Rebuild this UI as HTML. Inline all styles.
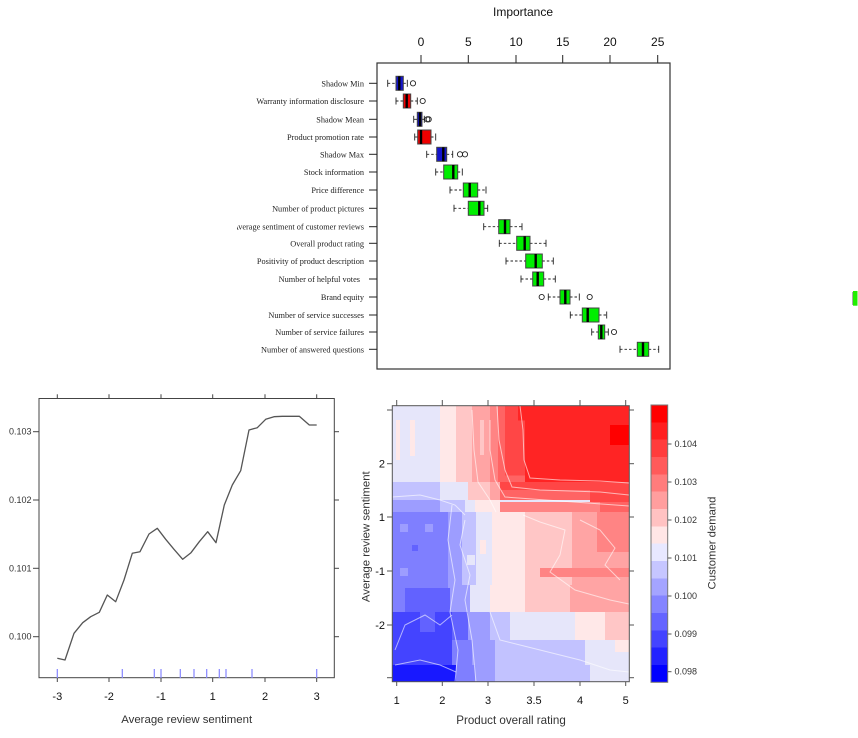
<!DOCTYPE html>
<html><head><meta charset="utf-8"><style>
html,body{margin:0;padding:0;background:#fff;}
svg{display:block;}
.serif{font-family:"Liberation Serif",serif;}
.sans{font-family:"Liberation Sans",sans-serif;}
</style></head><body>
<svg width="858" height="738" viewBox="0 0 858 738" xmlns="http://www.w3.org/2000/svg">
<rect width="858" height="738" fill="#fff"/>
<defs><clipPath id="lc"><rect x="237" y="0" width="200" height="380"/></clipPath></defs>

<!-- ===== Boxplot ===== -->
<text x="523" y="16" class="sans" font-size="12" text-anchor="middle" fill="#111">Importance</text>
<g class="sans" font-size="12" fill="#111" text-anchor="middle">
<text x="421" y="46">0</text><text x="468.3" y="46">5</text><text x="516" y="46">10</text><text x="562.7" y="46">15</text><text x="610" y="46">20</text><text x="657.7" y="46">25</text>
</g>
<g stroke="#222" stroke-width="1">
<line x1="421" y1="55" x2="421" y2="63"/><line x1="468.3" y1="55" x2="468.3" y2="63"/><line x1="516" y1="55" x2="516" y2="63"/><line x1="562.7" y1="55" x2="562.7" y2="63"/><line x1="610" y1="55" x2="610" y2="63"/><line x1="657.7" y1="55" x2="657.7" y2="63"/>
</g>
<rect x="377" y="63" width="293" height="306" fill="none" stroke="#333" stroke-width="1.2"/>
<g stroke="#222" stroke-width="1">
<line x1="369" x2="377" y1="83.3" y2="83.3"/><line x1="369" x2="377" y1="101" y2="101"/><line x1="369" x2="377" y1="119.3" y2="119.3"/><line x1="369" x2="377" y1="137" y2="137"/><line x1="369" x2="377" y1="154.3" y2="154.3"/><line x1="369" x2="377" y1="172" y2="172"/><line x1="369" x2="377" y1="190" y2="190"/><line x1="369" x2="377" y1="208.3" y2="208.3"/><line x1="369" x2="377" y1="226.7" y2="226.7"/><line x1="369" x2="377" y1="243.3" y2="243.3"/><line x1="369" x2="377" y1="261" y2="261"/><line x1="369" x2="377" y1="279" y2="279"/><line x1="369" x2="377" y1="297" y2="297"/><line x1="369" x2="377" y1="315" y2="315"/><line x1="369" x2="377" y1="332" y2="332"/><line x1="369" x2="377" y1="349.3" y2="349.3"/>
</g>
<g class="serif" font-size="8.3" fill="#222" text-anchor="end" clip-path="url(#lc)">
<text x="364" y="86.3">Shadow Min</text>
<text x="364" y="104">Warranty information disclosure</text>
<text x="364" y="122.3">Shadow Mean</text>
<text x="364" y="140">Product promotion rate</text>
<text x="364" y="157.3">Shadow Max</text>
<text x="364" y="175">Stock information</text>
<text x="364" y="193">Price difference</text>
<text x="364" y="211.3">Number of product pictures</text>
<text x="364" y="229.7">Average sentiment of customer reviews</text>
<text x="364" y="246.3">Overall product rating</text>
<text x="364" y="264">Positivity of product description</text>
<text x="360" y="282">Number of helpful votes</text>
<text x="364" y="300">Brand equity</text>
<text x="364" y="318">Number of service successes</text>
<text x="364" y="335">Number of service failures</text>
<text x="364" y="352.3">Number of answered questions</text>
</g>

<g stroke="#222" stroke-width="0.9" fill="none">
<!-- row template: dashed whiskers, caps -->
<g transform="translate(0,83.3)"><line x1="387.7" x2="396" y1="0" y2="0" stroke-dasharray="2.5,2"/><line x1="403.3" x2="407.3" y1="0" y2="0" stroke-dasharray="2.5,2"/><line x1="387.7" x2="387.7" y1="-3.5" y2="3.5"/><line x1="407.3" x2="407.3" y1="-3.5" y2="3.5"/><circle cx="413" cy="0" r="2.6"/></g>
<g transform="translate(0,101)"><line x1="396" x2="403.3" y1="0" y2="0" stroke-dasharray="2.5,2"/><line x1="410.7" x2="417.3" y1="0" y2="0" stroke-dasharray="2.5,2"/><line x1="396" x2="396" y1="-3.5" y2="3.5"/><line x1="417.3" x2="417.3" y1="-3.5" y2="3.5"/><circle cx="422.7" cy="0" r="2.6"/></g>
<g transform="translate(0,119.3)"><line x1="413.7" x2="417.3" y1="0" y2="0"/><line x1="422" x2="424.3" y1="0" y2="0"/><line x1="413.7" x2="413.7" y1="-3.5" y2="3.5"/><line x1="424.3" x2="424.3" y1="-3.5" y2="3.5"/><circle cx="427.3" cy="0" r="2.6"/><circle cx="428.7" cy="0" r="2.6"/></g>
<g transform="translate(0,137)"><line x1="414.7" x2="417.7" y1="0" y2="0"/><line x1="431" x2="435.7" y1="0" y2="0" stroke-dasharray="2.5,2"/><line x1="414.7" x2="414.7" y1="-3.5" y2="3.5"/><line x1="435.7" x2="435.7" y1="-3.5" y2="3.5"/></g>
<g transform="translate(0,154.3)"><line x1="426.7" x2="436.7" y1="0" y2="0" stroke-dasharray="2.5,2"/><line x1="446.7" x2="452.7" y1="0" y2="0" stroke-dasharray="2.5,2"/><line x1="426.7" x2="426.7" y1="-3.5" y2="3.5"/><line x1="452.7" x2="452.7" y1="-3.5" y2="3.5"/><circle cx="460" cy="0" r="2.6"/><circle cx="465" cy="0" r="2.6"/></g>
<g transform="translate(0,172)"><line x1="435.7" x2="443.7" y1="0" y2="0" stroke-dasharray="2.5,2"/><line x1="457.7" x2="462.3" y1="0" y2="0" stroke-dasharray="2.5,2"/><line x1="435.7" x2="435.7" y1="-3.5" y2="3.5"/><line x1="462.3" x2="462.3" y1="-3.5" y2="3.5"/></g>
<g transform="translate(0,190)"><line x1="450" x2="463.3" y1="0" y2="0" stroke-dasharray="2.5,2"/><line x1="477.7" x2="486" y1="0" y2="0" stroke-dasharray="2.5,2"/><line x1="450" x2="450" y1="-3.5" y2="3.5"/><line x1="486" x2="486" y1="-3.5" y2="3.5"/></g>
<g transform="translate(0,208.3)"><line x1="454" x2="468.3" y1="0" y2="0" stroke-dasharray="2.5,2"/><line x1="484" x2="487.7" y1="0" y2="0"/><line x1="454" x2="454" y1="-3.5" y2="3.5"/><line x1="487.7" x2="487.7" y1="-3.5" y2="3.5"/></g>
<g transform="translate(0,226.7)"><line x1="483.7" x2="498.7" y1="0" y2="0" stroke-dasharray="2.5,2"/><line x1="510" x2="522" y1="0" y2="0" stroke-dasharray="2.5,2"/><line x1="483.7" x2="483.7" y1="-3.5" y2="3.5"/><line x1="522" x2="522" y1="-3.5" y2="3.5"/></g>
<g transform="translate(0,243.3)"><line x1="499.3" x2="516.7" y1="0" y2="0" stroke-dasharray="2.5,2"/><line x1="530" x2="546" y1="0" y2="0" stroke-dasharray="2.5,2"/><line x1="499.3" x2="499.3" y1="-3.5" y2="3.5"/><line x1="546" x2="546" y1="-3.5" y2="3.5"/></g>
<g transform="translate(0,261)"><line x1="506" x2="525.7" y1="0" y2="0" stroke-dasharray="2.5,2"/><line x1="542.3" x2="553.3" y1="0" y2="0" stroke-dasharray="2.5,2"/><line x1="506" x2="506" y1="-3.5" y2="3.5"/><line x1="553.3" x2="553.3" y1="-3.5" y2="3.5"/></g>
<g transform="translate(0,279)"><line x1="521" x2="532.7" y1="0" y2="0" stroke-dasharray="2.5,2"/><line x1="543.7" x2="555.3" y1="0" y2="0" stroke-dasharray="2.5,2"/><line x1="521" x2="521" y1="-3.5" y2="3.5"/><line x1="555.3" x2="555.3" y1="-3.5" y2="3.5"/></g>
<g transform="translate(0,297)"><line x1="548.3" x2="560" y1="0" y2="0" stroke-dasharray="2.5,2"/><line x1="570" x2="579.3" y1="0" y2="0" stroke-dasharray="2.5,2"/><line x1="548.3" x2="548.3" y1="-3.5" y2="3.5"/><line x1="579.3" x2="579.3" y1="-3.5" y2="3.5"/><circle cx="541.7" cy="0" r="2.6"/><circle cx="589.7" cy="0" r="2.6"/></g>
<g transform="translate(0,315)"><line x1="570.3" x2="582.3" y1="0" y2="0" stroke-dasharray="2.5,2"/><line x1="599" x2="606.7" y1="0" y2="0" stroke-dasharray="2.5,2"/><line x1="570.3" x2="570.3" y1="-3.5" y2="3.5"/><line x1="606.7" x2="606.7" y1="-3.5" y2="3.5"/></g>
<g transform="translate(0,332)"><line x1="591.7" x2="598.3" y1="0" y2="0" stroke-dasharray="2.5,2"/><line x1="604.7" x2="608.3" y1="0" y2="0"/><line x1="591.7" x2="591.7" y1="-3.5" y2="3.5"/><line x1="608.3" x2="608.3" y1="-3.5" y2="3.5"/><circle cx="614" cy="0" r="2.6"/></g>
<g transform="translate(0,349.3)"><line x1="620" x2="637.3" y1="0" y2="0" stroke-dasharray="2.5,2"/><line x1="648.7" x2="658.7" y1="0" y2="0" stroke-dasharray="2.5,2"/><line x1="620" x2="620" y1="-3.5" y2="3.5"/><line x1="658.7" x2="658.7" y1="-3.5" y2="3.5"/></g>
</g>
<g stroke="#444" stroke-width="1">
<rect x="396" y="76.3" width="7.3" height="14" fill="#1414CC"/>
<rect x="403.3" y="94" width="7.4" height="14" fill="#EE0000"/>
<rect x="417.3" y="112.3" width="4.7" height="14" fill="#1414CC"/>
<rect x="417.7" y="130" width="13.3" height="14" fill="#EE0000"/>
<rect x="436.7" y="147.3" width="10" height="14" fill="#1414CC"/>
<rect x="443.7" y="165" width="14" height="14" fill="#00EE00"/>
<rect x="463.3" y="183" width="14.4" height="14" fill="#00EE00"/>
<rect x="468.3" y="201.3" width="15.7" height="14" fill="#00EE00"/>
<rect x="498.7" y="219.7" width="11.3" height="14" fill="#00EE00"/>
<rect x="516.7" y="236.3" width="13.3" height="14" fill="#00EE00"/>
<rect x="525.7" y="254" width="16.6" height="14" fill="#00EE00"/>
<rect x="532.7" y="272" width="11" height="14" fill="#00EE00"/>
<rect x="560" y="290" width="10" height="14" fill="#00EE00"/>
<rect x="582.3" y="308" width="16.7" height="14" fill="#00EE00"/>
<rect x="598.3" y="325" width="6.4" height="14" fill="#00EE00"/>
<rect x="637.3" y="342.3" width="11.4" height="14" fill="#00EE00"/>
</g>
<g stroke="#000" stroke-width="2.4">
<line x1="399.3" x2="399.3" y1="76.3" y2="90.3"/>
<line x1="406.7" x2="406.7" y1="94" y2="108"/>
<line x1="420" x2="420" y1="112.3" y2="126.3"/>
<line x1="421" x2="421" y1="130" y2="144"/>
<line x1="443.3" x2="443.3" y1="147.3" y2="161.3"/>
<line x1="453.3" x2="453.3" y1="165" y2="179"/>
<line x1="469.7" x2="469.7" y1="183" y2="197"/>
<line x1="479.3" x2="479.3" y1="201.3" y2="215.3"/>
<line x1="505" x2="505" y1="219.7" y2="233.7"/>
<line x1="524.7" x2="524.7" y1="236.3" y2="250.3"/>
<line x1="535.7" x2="535.7" y1="254" y2="268"/>
<line x1="537.7" x2="537.7" y1="272" y2="286"/>
<line x1="565.3" x2="565.3" y1="290" y2="304"/>
<line x1="587.7" x2="587.7" y1="308" y2="322"/>
<line x1="601.3" x2="601.3" y1="325" y2="339"/>
<line x1="643" x2="643" y1="342.3" y2="356.3"/>
</g>

<!-- green mark -->
<line x1="852.5" y1="292" x2="852.5" y2="305" stroke="#aaa" stroke-width="1"/>
<rect x="853" y="291" width="4.5" height="14.7" fill="#22EE00"/>

<!-- ===== Left line chart ===== -->
<rect x="39" y="398.5" width="295.3" height="279.2" fill="none" stroke="#444" stroke-width="1"/>
<g stroke="#444" stroke-width="1">
<line x1="57.3" x2="57.3" y1="394.3" y2="398.5"/><line x1="109" x2="109" y1="394.3" y2="398.5"/><line x1="161" x2="161" y1="394.3" y2="398.5"/><line x1="212.7" x2="212.7" y1="394.3" y2="398.5"/><line x1="265" x2="265" y1="394.3" y2="398.5"/><line x1="316.7" x2="316.7" y1="394.3" y2="398.5"/>
<line x1="57.3" x2="57.3" y1="677.7" y2="682"/><line x1="109" x2="109" y1="677.7" y2="682"/><line x1="161" x2="161" y1="677.7" y2="682"/><line x1="212.7" x2="212.7" y1="677.7" y2="682"/><line x1="265" x2="265" y1="677.7" y2="682"/><line x1="316.7" x2="316.7" y1="677.7" y2="682"/>
<line x1="33" x2="39" y1="431.7" y2="431.7"/><line x1="33" x2="39" y1="500" y2="500"/><line x1="33" x2="39" y1="568.3" y2="568.3"/><line x1="33" x2="39" y1="636.7" y2="636.7"/>
<line x1="334.3" x2="339" y1="431.7" y2="431.7"/><line x1="334.3" x2="339" y1="500" y2="500"/><line x1="334.3" x2="339" y1="568.3" y2="568.3"/><line x1="334.3" x2="339" y1="636.7" y2="636.7"/>
</g>
<g class="sans" font-size="9" fill="#333" text-anchor="end">
<text x="31.5" y="434.7">0.103</text><text x="31.5" y="503">0.102</text><text x="31.5" y="571.3">0.101</text><text x="31.5" y="639.7">0.100</text>
</g>
<g class="sans" font-size="11" fill="#111" text-anchor="middle">
<text x="57.3" y="700">-3</text><text x="109" y="700">-2</text><text x="161" y="700">-1</text><text x="212.7" y="700">1</text><text x="265" y="700">2</text><text x="316.7" y="700">3</text>
</g>
<text x="186.7" y="723" class="sans" font-size="11.4" fill="#333" text-anchor="middle">Average review sentiment</text>
<polyline fill="none" stroke="#555" stroke-width="1.3" stroke-linejoin="round" points="57.3,658.3 65,660 74,633.3 82.7,622.7 90.7,616.7 99.3,612.3 107.3,595 115.7,601.7 124,580 132.3,553.3 140,551.7 149,534 157.3,528.3 165.7,539.3 174,549.3 182.7,559.3 191,552.7 199.3,541.7 207.7,531.7 216,542.7 224.3,505 232.3,485 240.7,470.7 249,430 257.3,427.7 265.7,419.3 274,416.7 282.3,416.3 299.3,416.3 309.3,425 316.7,425"/>
<g stroke="#8585FF" stroke-width="1.2">
<line x1="57.3" x2="57.3" y1="669" y2="678"/><line x1="122.3" x2="122.3" y1="669" y2="678"/><line x1="154.3" x2="154.3" y1="669" y2="678"/><line x1="161" x2="161" y1="669" y2="678"/><line x1="180.3" x2="180.3" y1="669" y2="678"/><line x1="194" x2="194" y1="669" y2="678"/><line x1="206.7" x2="206.7" y1="669" y2="678"/><line x1="219.3" x2="219.3" y1="669" y2="678"/><line x1="226" x2="226" y1="669" y2="678"/><line x1="252" x2="252" y1="669" y2="678"/><line x1="316.7" x2="316.7" y1="669" y2="678"/>
</g>

<!-- ===== Heatmap ===== -->
<g shape-rendering="crispEdges">
<rect x="392.3" y="405.7" width="237" height="276" fill="#E6E6FA"/>
<!-- top band -->
<rect x="440" y="405.7" width="16" height="77" fill="#FFE8E8"/>
<rect x="456" y="405.7" width="16" height="77" fill="#FFC6C6"/>
<rect x="472" y="405.7" width="18" height="77" fill="#FFA4A4"/>
<rect x="490" y="405.7" width="8" height="77" fill="#FF8484"/>
<rect x="498" y="405.7" width="7" height="77" fill="#FF6464"/>
<rect x="505" y="405.7" width="20" height="70" fill="#FF4646"/>
<rect x="505" y="475.7" width="20" height="7" fill="#FF6464"/>
<rect x="518" y="405.7" width="111.3" height="15" fill="#FF2424"/>
<rect x="525" y="405.7" width="104.3" height="76.5" fill="#FF2424"/>
<rect x="610" y="425" width="19.3" height="20" fill="#FF0000"/>
<rect x="396" y="420" width="4" height="40" fill="#FFE8E8"/>
<rect x="410" y="420" width="5" height="36" fill="#FFE8E8"/>
<rect x="480" y="420" width="4" height="35" fill="#FFC6C6"/>
<!-- 482-500 -->
<rect x="392.3" y="482.2" width="47.7" height="18" fill="#C2C2FF"/>
<rect x="440" y="482.2" width="28" height="18" fill="#E6E6FA"/>
<rect x="468" y="482.2" width="22" height="18" fill="#FFC6C6"/>
<rect x="490" y="482.2" width="10" height="18" fill="#FFA4A4"/>
<rect x="500" y="482.2" width="129.3" height="8" fill="#FF4646"/>
<rect x="500" y="490.2" width="129.3" height="10" fill="#FF6464"/>
<rect x="590" y="490.2" width="39.3" height="12" fill="#FF4646"/>
<!-- 500-512 -->
<rect x="392.3" y="500.2" width="47.7" height="12" fill="#9D9DFF"/>
<rect x="440" y="500.2" width="25" height="12" fill="#C2C2FF"/>
<rect x="465" y="500.2" width="10" height="12" fill="#E6E6FA"/>
<rect x="475" y="500.2" width="25" height="12" fill="#FFE8E8"/>
<rect x="500" y="502.2" width="129.3" height="10" fill="#FF8484"/>
<rect x="600" y="502.2" width="29.3" height="10" fill="#FF6464"/>
<!-- 512-585 -->
<rect x="392.3" y="512.2" width="55.7" height="100" fill="#7F7FFF"/>
<rect x="448" y="512.2" width="14" height="100" fill="#9D9DFF"/>
<rect x="462" y="512.2" width="14" height="73" fill="#C2C2FF"/>
<rect x="476" y="512.2" width="16" height="73" fill="#E6E6FA"/>
<rect x="492" y="512.2" width="33" height="73" fill="#FFE8E8"/>
<rect x="525" y="512.2" width="47" height="73" fill="#FFC6C6"/>
<rect x="572" y="512.2" width="57.3" height="73" fill="#FFA4A4"/>
<rect x="597" y="512.2" width="32.3" height="40" fill="#FF8484"/>
<rect x="540" y="568" width="89.3" height="9" fill="#FF8484"/>
<rect x="400" y="524" width="8" height="8" fill="#9D9DFF"/>
<rect x="425" y="524" width="8" height="8" fill="#9D9DFF"/>
<rect x="400" y="568" width="8" height="8" fill="#9D9DFF"/>
<rect x="412" y="545" width="6" height="6" fill="#6262FF"/>
<rect x="480" y="540" width="6" height="14" fill="#FFE8E8"/>
<rect x="467" y="555" width="8" height="10" fill="#E6E6FA"/>
<!-- 585-612 -->
<rect x="405" y="588" width="45" height="24" fill="#6262FF"/>
<rect x="462" y="585.2" width="8" height="27" fill="#9D9DFF"/>
<rect x="470" y="585.2" width="20" height="27" fill="#E6E6FA"/>
<rect x="490" y="585.2" width="35" height="27" fill="#FFE8E8"/>
<rect x="525" y="585.2" width="45" height="27" fill="#FFC6C6"/>
<rect x="570" y="585.2" width="59.3" height="27" fill="#FFA4A4"/>
<!-- 612-640 -->
<rect x="392.3" y="612.2" width="59.7" height="53" fill="#4444FF"/>
<rect x="420" y="612.2" width="15" height="20" fill="#6262FF"/>
<rect x="452" y="612.2" width="16" height="28" fill="#6262FF"/>
<rect x="468" y="612.2" width="22" height="28" fill="#9D9DFF"/>
<rect x="490" y="612.2" width="20" height="28" fill="#C2C2FF"/>
<rect x="510" y="612.2" width="65" height="28" fill="#E6E6FA"/>
<rect x="575" y="612.2" width="30" height="28" fill="#FFE8E8"/>
<rect x="605" y="612.2" width="24.3" height="28" fill="#FFC6C6"/>
<!-- 640-665 -->
<rect x="452" y="640.2" width="20" height="25" fill="#7F7FFF"/>
<rect x="472" y="640.2" width="23" height="25" fill="#9D9DFF"/>
<rect x="495" y="640.2" width="90" height="25" fill="#C2C2FF"/>
<rect x="585" y="640.2" width="44.3" height="25" fill="#E6E6FA"/>
<rect x="615" y="640.2" width="14.3" height="12" fill="#FFE8E8"/>
<!-- 665-682 -->
<rect x="392.3" y="665.2" width="63.7" height="16.5" fill="#1818FF"/>
<rect x="456" y="665.2" width="19" height="16.5" fill="#7F7FFF"/>
<rect x="475" y="665.2" width="20" height="16.5" fill="#9D9DFF"/>
<rect x="495" y="665.2" width="95" height="16.5" fill="#C2C2FF"/>
<rect x="590" y="665.2" width="39.3" height="16.5" fill="#E6E6FA"/>
</g>
<g fill="none" stroke="rgba(255,255,255,0.6)" stroke-width="1">
<polyline points="520,405.7 523,430 524,460 530,478 560,480 600,481 629,483"/>
<polyline points="497,405.7 499,440 505,470 512,487 540,490 600,492 629,495"/>
<polyline points="490,420 490,450 495,480 505,497 560,501 629,506"/>
<polyline points="472,410 474,450 478,482 490,500 496,512"/>
<polyline points="392,497 420,495 440,500 455,505 465,515"/>
<polyline points="465,520 460,545 470,575 465,600 472,640 476,682"/>
<polyline points="452,505 448,540 455,580 450,612 458,650 455,682"/>
<polyline points="523,515 540,522 565,530 560,555 550,572 575,590 610,600 629,604"/>
<polyline points="580,520 600,530 615,548 605,565 620,580"/>
<polyline points="395,665 420,660 440,665 456,672"/>
<polyline points="395,650 405,625 425,615 440,625 452,615"/>
<polyline points="490,612 500,640 540,650 580,660 610,670 629,672"/>
</g>
<rect x="392.3" y="405.7" width="237" height="276" fill="none" stroke="#555" stroke-width="1"/>
<g stroke="#555" stroke-width="1">
<line x1="396.7" x2="396.7" y1="400" y2="405.7"/><line x1="442.3" x2="442.3" y1="400" y2="405.7"/><line x1="488" x2="488" y1="400" y2="405.7"/><line x1="534" x2="534" y1="400" y2="405.7"/><line x1="580" x2="580" y1="400" y2="405.7"/><line x1="625.7" x2="625.7" y1="400" y2="405.7"/>
<line x1="396.7" x2="396.7" y1="681.7" y2="686"/><line x1="442.3" x2="442.3" y1="681.7" y2="686"/><line x1="488" x2="488" y1="681.7" y2="686"/><line x1="534" x2="534" y1="681.7" y2="686"/><line x1="580" x2="580" y1="681.7" y2="686"/><line x1="625.7" x2="625.7" y1="681.7" y2="686"/>
<line x1="387" x2="392.3" y1="410" y2="410"/><line x1="387" x2="392.3" y1="463.7" y2="463.7"/><line x1="387" x2="392.3" y1="517" y2="517"/><line x1="387" x2="392.3" y1="571" y2="571"/><line x1="387" x2="392.3" y1="625" y2="625"/><line x1="387" x2="392.3" y1="677.7" y2="677.7"/>
<line x1="629.3" x2="634" y1="410" y2="410"/><line x1="629.3" x2="634" y1="463.7" y2="463.7"/><line x1="629.3" x2="634" y1="517" y2="517"/><line x1="629.3" x2="634" y1="571" y2="571"/><line x1="629.3" x2="634" y1="625" y2="625"/><line x1="629.3" x2="634" y1="677.7" y2="677.7"/>
</g>
<g class="sans" font-size="11" fill="#111" text-anchor="middle">
<text x="396.7" y="704">1</text><text x="442.3" y="704">2</text><text x="488" y="704">3</text><text x="534" y="704">3.5</text><text x="580" y="704">4</text><text x="625.7" y="704">5</text>
</g>
<g class="sans" font-size="11" fill="#111" text-anchor="end">
<text x="385" y="467.7">2</text><text x="385" y="521">1</text><text x="385" y="575">-1</text><text x="385" y="629">-2</text>
</g>
<text transform="translate(369.5,536.7) rotate(-90)" class="sans" font-size="11.4" fill="#333" text-anchor="middle">Average review sentiment</text>
<text x="511" y="724" class="sans" font-size="11.6" fill="#333" text-anchor="middle">Product overall rating</text>

<!-- colorbar -->
<g shape-rendering="crispEdges">
<rect x="651" y="405" width="16.7" height="17.4" fill="#FF0000"/>
<rect x="651" y="422.3" width="16.7" height="17.4" fill="#FF1E1E"/>
<rect x="651" y="439.7" width="16.7" height="17.4" fill="#FF3C3C"/>
<rect x="651" y="457" width="16.7" height="17.4" fill="#FF5A5A"/>
<rect x="651" y="474.3" width="16.7" height="17.4" fill="#FF7C7C"/>
<rect x="651" y="491.7" width="16.7" height="17.4" fill="#FF9E9E"/>
<rect x="651" y="509" width="16.7" height="17.4" fill="#FFC2C2"/>
<rect x="651" y="526.3" width="16.7" height="17.4" fill="#FFE6E6"/>
<rect x="651" y="543.7" width="16.7" height="17.4" fill="#E8E8FF"/>
<rect x="651" y="561" width="16.7" height="17.4" fill="#C6C6FF"/>
<rect x="651" y="578.3" width="16.7" height="17.4" fill="#A4A4FF"/>
<rect x="651" y="595.7" width="16.7" height="17.4" fill="#8484FF"/>
<rect x="651" y="613" width="16.7" height="17.4" fill="#6464FF"/>
<rect x="651" y="630.3" width="16.7" height="17.4" fill="#4444FF"/>
<rect x="651" y="647.7" width="16.7" height="17.4" fill="#2222FF"/>
<rect x="651" y="665" width="16.7" height="17.3" fill="#0000FF"/>
</g>
<rect x="651" y="405" width="16.7" height="277.3" fill="none" stroke="#777" stroke-width="1"/>
<g stroke="#555" stroke-width="1">
<line x1="667.7" x2="671.5" y1="444" y2="444"/><line x1="667.7" x2="671.5" y1="482" y2="482"/><line x1="667.7" x2="671.5" y1="520" y2="520"/><line x1="667.7" x2="671.5" y1="558" y2="558"/><line x1="667.7" x2="671.5" y1="596" y2="596"/><line x1="667.7" x2="671.5" y1="634" y2="634"/><line x1="667.7" x2="671.5" y1="671.7" y2="671.7"/>
</g>
<g class="sans" font-size="9" fill="#333">
<text x="674.5" y="447">0.104</text><text x="674.5" y="485">0.103</text><text x="674.5" y="523">0.102</text><text x="674.5" y="561">0.101</text><text x="674.5" y="599">0.100</text><text x="674.5" y="637">0.099</text><text x="674.5" y="674.7">0.098</text>
</g>
<text transform="translate(715.5,543) rotate(-90)" class="sans" font-size="11.3" fill="#333" text-anchor="middle">Customer demand</text>
</svg>
</body></html>
